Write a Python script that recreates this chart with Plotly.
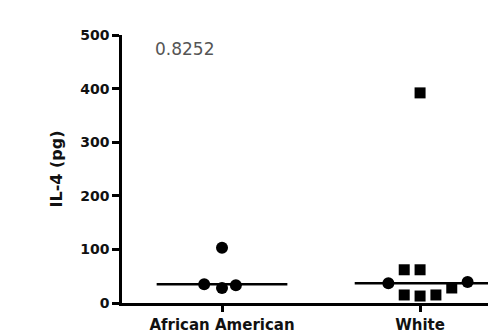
import plotly.graph_objects as go

categories = ["African American", "White"]
cat_pos = [1, 2]

aa_values = [103, 35, 28, 33]
aa_offsets = [0.0, -0.09, 0.0, 0.07]
aa_median = 35

white_circle_values = [37, 39]
white_circle_offsets = [-0.16, 0.24]
white_square_values = [392, 62, 62, 15, 13, 15, 28]
white_square_offsets = [0.0, -0.08, 0.0, -0.08, 0.0, 0.08, 0.16]
white_median = 37

p_value_text = "0.8252"
y_ticks = [0, 100, 200, 300, 400, 500]

FONT = "DejaVu Sans"

fig = go.Figure()

# median lines
fig.add_trace(go.Scatter(x=[cat_pos[0] - 0.33, cat_pos[0] + 0.33], y=[aa_median, aa_median],
                         mode="lines", line=dict(color="black", width=2.5), showlegend=False))
fig.add_trace(go.Scatter(x=[cat_pos[1] - 0.33, cat_pos[1] + 0.40], y=[white_median, white_median],
                         mode="lines", line=dict(color="black", width=2.5), showlegend=False))

fig.add_trace(go.Scatter(x=[cat_pos[0] + o for o in aa_offsets], y=aa_values, mode="markers",
                         marker=dict(symbol="circle", size=12, color="black"), showlegend=False))
fig.add_trace(go.Scatter(x=[cat_pos[1] + o for o in white_circle_offsets], y=white_circle_values,
                         mode="markers", marker=dict(symbol="circle", size=12, color="black"),
                         showlegend=False))
fig.add_trace(go.Scatter(x=[cat_pos[1] + o for o in white_square_offsets], y=white_square_values,
                         mode="markers", marker=dict(symbol="square", size=11, color="black"),
                         showlegend=False))

fig.add_annotation(x=0.65, y=474, xref="x", yref="y", text=p_value_text, showarrow=False,
                   xanchor="left", yanchor="middle",
                   font=dict(family=FONT, size=17, color="#555"))

fig.update_layout(
    width=488, height=334,
    margin=dict(l=122, r=0, t=35, b=31),
    plot_bgcolor="white", paper_bgcolor="white",
    font=dict(family=FONT, color="black"),
)
fig.update_xaxes(range=[0.495, 2.343], tickvals=cat_pos, ticktext=[f"<b>{c}</b>" for c in categories],
                 ticks="outside", ticklen=6, tickwidth=2.5, tickcolor="black",
                 showline=True, linecolor="black", linewidth=2.5, showgrid=False, zeroline=False,
                 tickfont=dict(family=FONT, size=15, color="#111"))
fig.update_yaxes(range=[0, 500], tickvals=y_ticks, ticktext=[f"<b>{v}</b>" for v in y_ticks],
                 ticks="outside", ticklen=7, tickwidth=2.5, tickcolor="black",
                 showline=True, linecolor="black", linewidth=2.5, showgrid=False, zeroline=False,
                 tickfont=dict(family=FONT, size=14, color="#111"),
                 title=dict(text="<b>IL-4 (pg)</b>", font=dict(family=FONT, size=16, color="#111"), standoff=14))

fig.write_html("out.html")
